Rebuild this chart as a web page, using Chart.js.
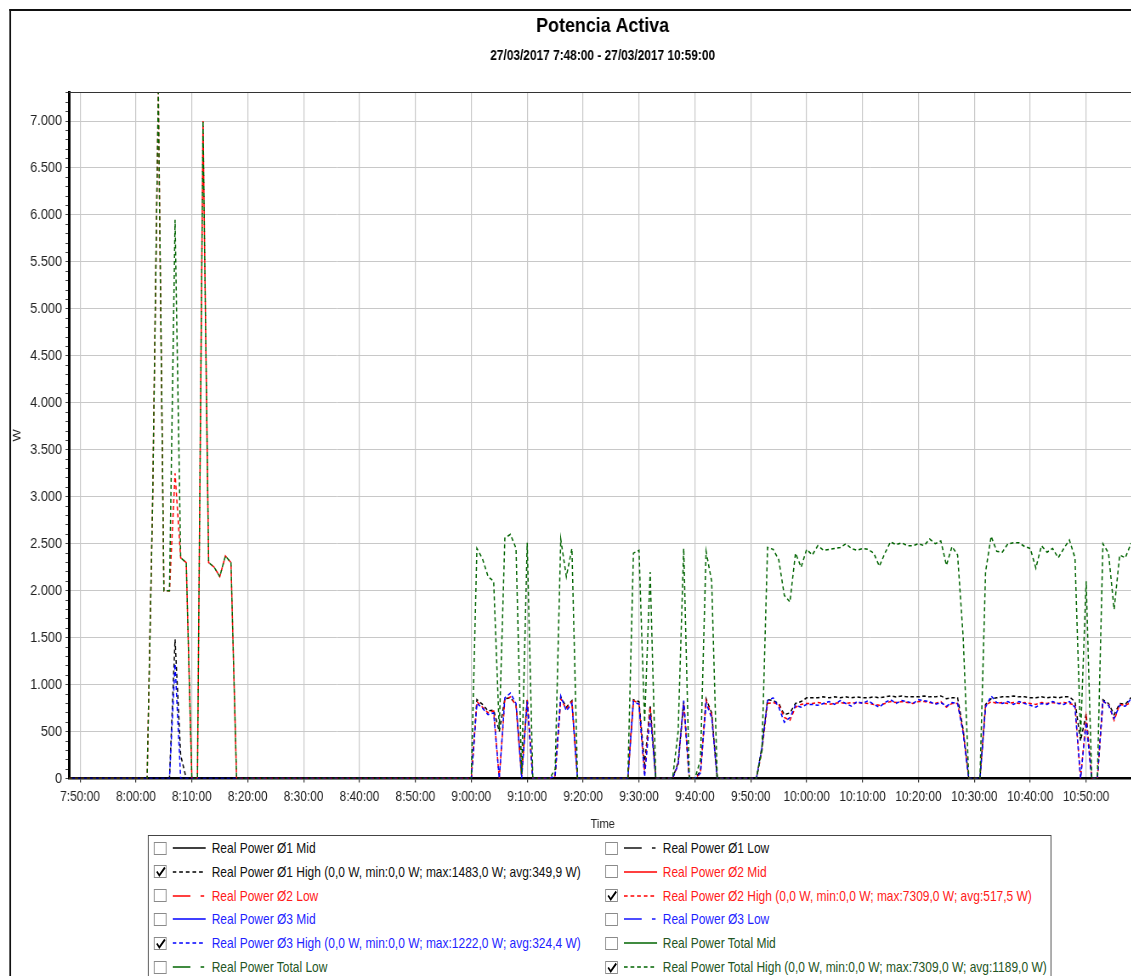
<!DOCTYPE html>
<html>
<head>
<meta charset="utf-8">
<script src="https://cdn.jsdelivr.net/npm/chart.js@4.4.1/dist/chart.umd.min.js"></script>
<style>
html,body{margin:0;padding:0;background:#fff;overflow:hidden;width:1131px;height:976px;}
#root{position:absolute;left:0;top:0;width:1340px;height:976px;transform:scaleX(0.85);transform-origin:0 0;font-family:"Liberation Sans",Arial,sans-serif;}
#frame{position:absolute;left:10.5px;top:9px;width:1400px;height:1100px;border-top:2px solid #111;border-left:2.4px solid #111;}
#chart{position:absolute;left:0;top:0;}
#legend{position:absolute;left:174px;top:835px;width:1061px;height:200px;border:1px solid #444;background:#fff;}
.item{position:absolute;height:20px;width:520px;}
.cb{position:absolute;left:0;top:3.5px;width:13.3px;height:11px;border:1px solid #8a8a8a;background:#fff;}
.cb svg{position:absolute;left:0;top:0;}
.smp{position:absolute;left:22.4px;top:7px;}
.txt{position:absolute;left:68.2px;top:0;line-height:20px;font-size:14.1px;white-space:nowrap;}
</style>
</head>
<body>
<div id="root">
  <div id="frame"></div>
  <canvas id="chart" width="1340" height="832"></canvas>
  <div id="legend"></div>
</div>
<script>
// ---- data (1-minute samples, 27/03/2017) ----
const times = [
 '7:48','7:49',
 '7:50','7:51','7:52','7:53','7:54','7:55','7:56','7:57','7:58','7:59',
 '8:00','8:01','8:02','8:03','8:04','8:05','8:06','8:07','8:08','8:09',
 '8:10','8:11','8:12','8:13','8:14','8:15','8:16','8:17','8:18','8:19',
 '8:20','8:21','8:22','8:23','8:24','8:25','8:26','8:27','8:28','8:29',
 '8:30','8:31','8:32','8:33','8:34','8:35','8:36','8:37','8:38','8:39',
 '8:40','8:41','8:42','8:43','8:44','8:45','8:46','8:47','8:48','8:49',
 '8:50','8:51','8:52','8:53','8:54','8:55','8:56','8:57','8:58','8:59',
 '9:00','9:01','9:02','9:03','9:04','9:05','9:06','9:07','9:08','9:09',
 '9:10','9:11','9:12','9:13','9:14','9:15','9:16','9:17','9:18','9:19',
 '9:20','9:21','9:22','9:23','9:24','9:25','9:26','9:27','9:28','9:29',
 '9:30','9:31','9:32','9:33','9:34','9:35','9:36','9:37','9:38','9:39',
 '9:40','9:41','9:42','9:43','9:44','9:45','9:46','9:47','9:48','9:49',
 '9:50','9:51','9:52','9:53','9:54','9:55','9:56','9:57','9:58','9:59',
 '10:00','10:01','10:02','10:03','10:04','10:05','10:06','10:07','10:08','10:09',
 '10:10','10:11','10:12','10:13','10:14','10:15','10:16','10:17','10:18','10:19',
 '10:20','10:21','10:22','10:23','10:24','10:25','10:26','10:27','10:28','10:29',
 '10:30','10:31','10:32','10:33','10:34','10:35','10:36','10:37','10:38','10:39',
 '10:40','10:41','10:42','10:43','10:44','10:45','10:46','10:47','10:48','10:49',
 '10:50','10:51','10:52','10:53','10:54','10:55','10:56','10:57','10:58','10:59'
];

const phase1High = [
 0,0,
 0,0,0,0,0,0,0,0,0,0,
 0,0,0,0,0,0,0,1483,250,0,
 0,0,0,0,0,0,0,0,0,0,
 0,0,0,0,0,0,0,0,0,0,
 0,0,0,0,0,0,0,0,0,0,
 0,0,0,0,0,0,0,0,0,0,
 0,0,0,0,0,0,0,0,0,0,
 0,840,790,720,730,500,850,860,790,50,
 850,0,0,0,0,40,870,760,830,0,
 0,0,0,0,0,0,0,0,0,840,
 820,150,780,0,0,0,0,170,820,0,
 0,80,850,700,0,0,0,0,0,0,
 0,0,340,840,830,800,680,700,800,820,
 860,860,860,870,860,870,860,870,860,870,
 860,860,870,860,870,880,870,880,870,870,
 870,880,870,870,880,850,860,860,520,0,
 0,0,790,850,860,870,870,880,870,870,
 860,860,870,860,870,860,870,870,820,400,
 690,0,0,840,800,680,800,790,860,880
];

const phase2High = [
 0,0,
 0,0,0,0,0,0,0,0,0,0,
 0,0,0,3000,7309,2000,2000,3250,2350,2300,
 0,0,7000,2300,2250,2150,2370,2300,0,0,
 0,0,0,0,0,0,0,0,0,0,
 0,0,0,0,0,0,0,0,0,0,
 0,0,0,0,0,0,0,0,0,0,
 0,0,0,0,0,0,0,0,0,0,
 0,820,760,700,720,0,840,870,780,30,
 840,0,0,0,0,30,850,740,820,0,
 0,0,0,0,0,0,0,0,0,830,
 800,50,760,0,0,0,0,150,800,0,
 0,60,830,680,0,0,0,0,0,0,
 0,0,300,800,810,790,650,620,760,790,
 800,800,810,800,790,800,810,800,810,800,
 810,800,790,780,800,820,810,820,810,800,
 820,820,810,800,820,760,800,800,500,0,
 0,0,780,820,800,810,800,810,800,810,
 800,790,810,800,810,800,810,800,780,0,
 650,0,0,820,790,620,790,780,810,820
];

const phase3High = [
 0,0,
 0,0,0,0,0,0,0,0,0,0,
 0,0,0,0,0,0,0,1222,0,0,
 0,0,0,0,0,0,0,0,0,0,
 0,0,0,0,0,0,0,0,0,0,
 0,0,0,0,0,0,0,0,0,0,
 0,0,0,0,0,0,0,0,0,0,
 0,0,0,0,0,0,0,0,0,0,
 0,800,750,680,700,0,860,910,800,0,
 820,0,0,0,0,30,880,720,800,0,
 0,0,0,0,0,0,0,0,0,820,
 790,20,680,0,0,0,0,150,830,0,
 0,60,800,650,0,0,0,0,0,0,
 0,0,330,830,860,760,600,650,780,760,
 790,790,780,800,820,790,830,800,770,820,
 800,830,790,760,810,840,800,830,820,800,
 840,830,820,790,810,770,810,800,480,0,
 0,0,760,880,810,800,820,790,820,800,
 780,760,800,790,820,800,790,820,760,0,
 600,0,0,830,780,640,780,770,850,880
];

const totalHigh = [
 0,0,
 0,0,0,0,0,0,0,0,0,0,
 0,0,0,3000,7309,2000,2000,5950,2350,2300,
 0,0,7000,2300,2250,2150,2370,2300,0,0,
 0,0,0,0,0,0,0,0,0,0,
 0,0,0,0,0,0,0,0,0,0,
 0,0,0,0,0,0,0,0,0,0,
 0,0,0,0,0,0,0,0,0,0,
 0,2450,2340,2150,2100,520,2560,2600,2450,50,
 2510,0,0,0,0,100,2550,2150,2450,0,
 0,0,0,0,0,0,0,0,0,2400,
 2430,600,2200,0,0,0,0,500,2450,0,
 0,200,2420,2100,0,0,0,0,0,0,
 0,0,300,2460,2440,2330,1950,1880,2400,2250,
 2440,2380,2480,2430,2440,2450,2460,2500,2450,2430,
 2450,2440,2400,2260,2400,2520,2490,2510,2480,2480,
 2500,2480,2550,2500,2530,2270,2470,2380,1500,0,
 0,0,2200,2580,2420,2410,2500,2510,2510,2470,
 2450,2240,2480,2410,2450,2350,2450,2540,2350,450,
 2100,0,0,2500,2400,1800,2380,2350,2500,2480
];

const xTickLabels = ['7:50:00','8:00:00','8:10:00','8:20:00','8:30:00','8:40:00','8:50:00',
 '9:00:00','9:10:00','9:20:00','9:30:00','9:40:00','9:50:00',
 '10:00:00','10:10:00','10:20:00','10:30:00','10:40:00','10:50:00'];
const yTickLabels = ['0','500','1.000','1.500','2.000','2.500','3.000','3.500',
 '4.000','4.500','5.000','5.500','6.000','6.500','7.000'];
const yMax = 7309;
const yMajorStep = 500;
const yMinorStep = 100;

const titleText = 'Potencia Activa';
const subtitleText = '27/03/2017 7:48:00 - 27/03/2017 10:59:00';

const legendNames = [
 'Real Power Ø1 Mid',
 'Real Power Ø1 Low',
 'Real Power Ø1 High (0,0 W, min:0,0 W; max:1483,0 W; avg:349,9 W)',
 'Real Power Ø2 Mid',
 'Real Power Ø2 Low',
 'Real Power Ø2 High (0,0 W, min:0,0 W; max:7309,0 W; avg:517,5 W)',
 'Real Power Ø3 Mid',
 'Real Power Ø3 Low',
 'Real Power Ø3 High (0,0 W, min:0,0 W; max:1222,0 W; avg:324,4 W)',
 'Real Power Total Mid',
 'Real Power Total Low',
 'Real Power Total High (0,0 W, min:0,0 W; max:7309,0 W; avg:1189,0 W)'
];
const legendChecked = [false,false,true,false,false,true,false,false,true,false,false,true];
const legendKinds = ['mid','low','high','mid','low','high','mid','low','high','mid','low','high'];
const legendLineColors = ['#000','#000','#000','#ff0000','#ff0000','#ff0000','#0000ff','#0000ff','#0000ff','#006400','#006400','#006400'];
const legendTextColors = ['#111','#111','#111','#ff1a1a','#ff1a1a','#ff1a1a','#1f1fff','#1f1fff','#1f1fff','#245524','#245524','#245524'];

// ---- helpers ----
function toMinutes(t){ const p = t.split(':'); return (+p[0])*60 + (+p[1]); }
const xs = times.map(toMinutes);
function series(vals){ return vals.map((v,i)=>({x: xs[i], y: v})); }

const FONT = '"Liberation Sans", Arial, sans-serif';
Chart.defaults.font.family = FONT;
Chart.defaults.color = '#222';

const plotTopBorder = {
  id: 'plotTopBorder',
  afterDraw(c){
    const a = c.chartArea, ctx = c.ctx;
    ctx.save();
    ctx.strokeStyle = '#333';
    ctx.lineWidth = 1;
    ctx.beginPath();
    ctx.moveTo(a.left, Math.round(a.top) + 0.5);
    ctx.lineTo(a.right, Math.round(a.top) + 0.5);
    ctx.stroke();
    ctx.restore();
  }
};

const dash = [4, 3];
const common = {pointRadius: 0, borderWidth: 1.5, borderDash: dash, tension: 0, fill: false};

new Chart(document.getElementById('chart'), {
  type: 'line',
  data: {
    datasets: [
      Object.assign({label: legendNames[11], data: series(totalHigh), borderColor: '#006400', order: 0, borderDashOffset: 0}, common),
      Object.assign({label: legendNames[8], data: series(phase3High), borderColor: '#0000ff', order: 1, borderDashOffset: 3.5}, common),
      Object.assign({label: legendNames[5], data: series(phase2High), borderColor: '#ff0000', order: 2, borderDashOffset: 0}, common),
      Object.assign({label: legendNames[2], data: series(phase1High), borderColor: '#000000', order: 3, borderDashOffset: 1.5}, common)
    ]
  },
  options: {
    responsive: false,
    animation: false,
    devicePixelRatio: 1,
    layout: {padding: {left: 0, right: 3, top: 0, bottom: 0}},
    plugins: {
      legend: {display: false},
      tooltip: {enabled: false},
      title: {display: true, text: titleText, fullSize: false, color: '#000',
              font: {size: 21, weight: 'bold'}, padding: {top: 14, bottom: 9}},
      subtitle: {display: true, text: subtitleText, fullSize: false, color: '#000',
              font: {size: 14, weight: 'bold'}, padding: {top: 0, bottom: 27}}
    },
    scales: {
      x: {
        type: 'linear',
        min: xs[0],
        max: xs[xs.length - 1],
        afterBuildTicks: (s) => { s.ticks = xTickLabels.map(l => ({value: toMinutes(l)})); },
        ticks: {autoSkip: false, maxRotation: 0, padding: 6, color: '#222',
                font: {size: 14},
                callback: (v, i) => xTickLabels[i]},
        grid: {color: '#c8c8c8', lineWidth: 1.2, tickLength: 4, tickColor: '#333'},
        border: {display: true, color: '#000', width: 2.5},
        title: {display: true, text: 'Time', color: '#222', font: {size: 13}, padding: {top: 5, bottom: 0}}
      },
      y: {
        type: 'linear',
        min: 0,
        max: yMax,
        afterBuildTicks: (s) => {
          const t = [];
          for (let v = 0; v <= yMax; v += yMinorStep) t.push({value: v});
          s.ticks = t;
        },
        afterFit: (s) => { s.width = 81; },
        ticks: {autoSkip: false, padding: 4, color: '#222', font: {size: 15},
                callback: (v) => (v % yMajorStep === 0 ? yTickLabels[v / yMajorStep] : '')},
        grid: {
          color: (ctx) => (ctx.tick && ctx.tick.value % yMajorStep === 0 ? '#c8c8c8' : 'rgba(0,0,0,0)'),
          lineWidth: 1, tickLength: 4, tickColor: '#444'
        },
        border: {display: true, color: '#000', width: 3},
        title: {display: true, text: 'W', color: '#222', font: {size: 13}, padding: {top: 13, bottom: 0}}
      }
    }
  },
  plugins: [plotTopBorder]
});

// ---- legend ----
const legend = document.getElementById('legend');
const colX = [5.9, 536.5];
const rowCenters = [12, 35.8, 59.6, 83.4, 107.2, 131];
function sampleSvg(kind, color){
  const ns = 'http://www.w3.org/2000/svg';
  const svg = document.createElementNS(ns, 'svg');
  svg.setAttribute('width', '40'); svg.setAttribute('height', '6');
  function seg(x1, x2, dasharray){
    const l = document.createElementNS(ns, 'line');
    l.setAttribute('x1', x1); l.setAttribute('x2', x2);
    l.setAttribute('y1', 3); l.setAttribute('y2', 3);
    l.setAttribute('stroke', color); l.setAttribute('stroke-width', '1.4');
    if (dasharray) l.setAttribute('stroke-dasharray', dasharray);
    svg.appendChild(l);
  }
  if (kind === 'mid') seg(0, 39);
  else if (kind === 'high') seg(0, 39, '4.4 3.4');
  else { seg(0, 21); seg(33, 37.2); }
  return svg;
}
legendNames.forEach((name, k) => {
  const item = document.createElement('div');
  item.className = 'item';
  item.style.left = colX[k % 2] + 'px';
  item.style.top = (rowCenters[Math.floor(k / 2)] - 10) + 'px';
  const cb = document.createElement('div');
  cb.className = 'cb';
  if (legendChecked[k]) {
    cb.innerHTML = '<svg width="14" height="12"><path d="M2.5 5.5 L5.5 9.5 L12 1.5" fill="none" stroke="#000" stroke-width="2"/></svg>';
  }
  item.appendChild(cb);
  const smp = sampleSvg(legendKinds[k], legendLineColors[k]);
  smp.setAttribute('class', 'smp');
  item.appendChild(smp);
  const tx = document.createElement('div');
  tx.className = 'txt';
  tx.style.color = legendTextColors[k];
  tx.textContent = name;
  item.appendChild(tx);
  legend.appendChild(item);
});
</script>
</body>
</html>
